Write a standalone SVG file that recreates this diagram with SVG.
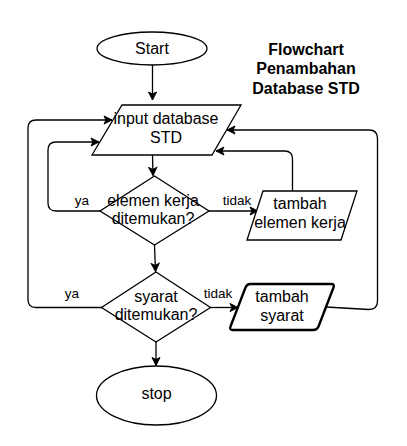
<svg xmlns="http://www.w3.org/2000/svg" width="407" height="446" viewBox="0 0 407 446">
<defs>
<marker id="arr" markerWidth="10" markerHeight="10" refX="9" refY="5" orient="auto" markerUnits="userSpaceOnUse">
<path d="M1,1 L9,5 L1,9 L3,5 Z" fill="#000" stroke="#000" stroke-width="1"/>
</marker>
<style>
.s{fill:#fff;stroke:#000;stroke-width:1.3}
.b{fill:#fff;stroke:#000;stroke-width:2.4;stroke-linejoin:round}
.c{fill:none;stroke:#000;stroke-width:1.3;marker-end:url(#arr)}
.t{font-family:"Liberation Sans",Arial,sans-serif;font-size:16px;fill:#000;text-anchor:middle}
.l{font-family:"Liberation Sans",Arial,sans-serif;font-size:13.5px;fill:#000;text-anchor:middle}
.h{font-family:"Liberation Sans",Arial,sans-serif;font-size:16px;font-weight:bold;fill:#000;text-anchor:middle}
</style>
</defs>
<rect width="407" height="446" fill="#fff"/>
<g id="connectors">
<path class="c" d="M152.5,65 L152.5,100"/>
<path class="c" d="M152.5,155 L153,175.5"/>
<path class="c" d="M100,211 L56,211 Q48,211 48,203 L48,150 Q48,142 56,142 L99,142"/>
<path class="c" d="M209,211 L258,211"/>
<path class="c" d="M292.5,191 L292.5,159 Q292.5,151 284.5,151 L216,151"/>
<path class="c" d="M154.5,245 L155.5,271.5"/>
<path class="c" d="M102,307.5 L36,307.5 Q28,307.5 28,299.5 L28,128 Q28,120 36,120 L112,120"/>
<path class="c" d="M211,307.5 L238,307.5"/>
<path class="c" d="M326,307 L369,309.5 Q377.5,309.5 377.5,301 L377.5,138.5 Q377.5,130 369,130 L227,130"/>
<path class="c" d="M156,342 L156,365.5"/>
</g>
<g id="title">
<text class="h" x="306" y="55">Flowchart</text>
<text class="h" x="306" y="74">Penambahan</text>
<text class="h" x="306" y="94">Database STD</text>
</g>
<g id="start">
<ellipse class="s" cx="152" cy="48.5" rx="55" ry="16.5"/>
<text class="t" x="152" y="54">Start</text>
</g>
<g id="input">
<polygon class="s" points="122,105 241,105 212,155 92,155"/>
<text class="t" x="166" y="124">input database</text>
<text class="t" x="166" y="143">STD</text>
</g>
<g id="dec1">
<polygon class="s" points="154.5,176 209,211 154.5,245 100,211"/>
<text class="t" x="153" y="205.5">elemen kerja</text>
<text class="t" x="153" y="224">ditemukan?</text>
<text class="l" x="82" y="205">ya</text>
<text class="l" x="237" y="205">tidak</text>
</g>
<g id="tambahElemen">
<polygon class="s" points="263,191 357,191 341,240 247,240"/>
<text class="t" x="300" y="209">tambah</text>
<text class="t" x="300" y="228">elemen kerja</text>
</g>
<g id="dec2">
<polygon class="s" points="156,272 210.5,307.5 156,342 101.5,307.5"/>
<text class="t" x="156" y="301.5">syarat</text>
<text class="t" x="156" y="320">ditemukan?</text>
<text class="l" x="72" y="298">ya</text>
<text class="l" x="218" y="298">tidak</text>
</g>
<g id="tambahSyarat">
<path class="b" d="M250,284 L331,284 Q335,284 333.5,287.5 L318.5,326.5 Q317,330 313,330 L233,330 Q229,330 230.5,326.5 L245.5,287.5 Q247,284 250,284 Z"/>
<text class="t" x="282" y="302">tambah</text>
<text class="t" x="282" y="321">syarat</text>
</g>
<g id="stop">
<ellipse class="s" cx="156.5" cy="395.5" rx="60" ry="29.5"/>
<text class="t" x="156.5" y="399">stop</text>
</g>
</svg>
